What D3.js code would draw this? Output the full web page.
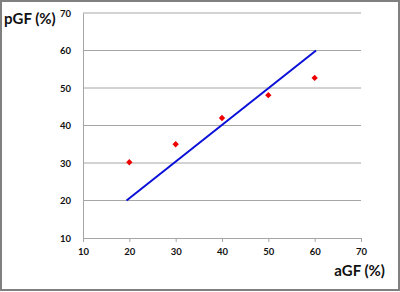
<!DOCTYPE html>
<html>
<head>
<meta charset="utf-8">
<script src="https://cdn.jsdelivr.net/npm/d3@7"></script>
<style>
  body { margin: 0; background: #fff; }
  text { font-family: Lato, "Open Sans", sans-serif; font-weight: bold; fill: #111; }
</style>
</head>
<body>
<div id="chart"></div>
<script>
'use strict';

// data
var aGF = [20, 30, 40, 50, 60];
var pGF = [30.2, 35, 42, 48.1, 52.7];
var lineX = [19.4, 60.3];
var lineY = [20, 60];
var xTicks = [10, 20, 30, 40, 50, 60, 70];
var yTicks = [10, 20, 30, 40, 50, 60, 70];

var W = 400, H = 292;
var margin = {top: 13, right: 39, bottom: 54, left: 83},
  width = W - margin.left - margin.right,
  height = H - margin.top - margin.bottom;

var x = d3.scaleLinear().domain([10, 70]).range([0, width]);
var y = d3.scaleLinear().domain([10, 70]).range([height, 0]);

var svg = d3.select("#chart").append("svg")
  .attr("width", W)
  .attr("height", H);

// outer frame
svg.append("rect")
  .attr("x", 1).attr("y", 1)
  .attr("width", W - 2).attr("height", H - 3)
  .attr("fill", "none")
  .attr("stroke", "#808080")
  .attr("stroke-width", 2);

var g = svg.append("g")
  .attr("transform", "translate(" + margin.left + "," + margin.top + ")");

// gridlines
g.selectAll(".grid")
  .data(yTicks.slice(1))
  .enter().append("line")
    .attr("x1", 0).attr("x2", width)
    .attr("y1", function(d) { return y(d); })
    .attr("y2", function(d) { return y(d); })
    .attr("stroke", "#a6a6a6")
    .attr("stroke-width", 1);

// x axis
var xAxis = g.append("g")
  .attr("transform", "translate(0," + height + ")")
  .call(d3.axisBottom(x).tickValues(xTicks).tickSize(4).tickPadding(6));
xAxis.select(".domain").attr("stroke", "#a6a6a6");
xAxis.selectAll(".tick line").attr("stroke", "#a6a6a6");
xAxis.selectAll("text").style("font-size", "9.5px").attr("fill", "#111");

// y axis
var yAxis = g.append("g")
  .call(d3.axisLeft(y).tickValues(yTicks).tickSize(0).tickPadding(12));
yAxis.select(".domain").attr("stroke", "#a6a6a6");
yAxis.selectAll("text").style("font-size", "9.5px").attr("fill", "#111");

// fitted line
g.append("path")
  .datum(d3.zip(lineX, lineY))
  .attr("fill", "none")
  .attr("stroke", "#0a10d8")
  .attr("stroke-width", 2)
  .attr("d", d3.line()
    .x(function(d) { return x(d[0]); })
    .y(function(d) { return y(d[1]); }));

// points (square turned 45 degrees)
g.selectAll(".pt")
  .data(d3.zip(aGF, pGF))
  .enter().append("path")
    .attr("transform", function(d) { return "translate(" + x(d[0]) + "," + y(d[1]) + ") rotate(45)"; })
    .attr("d", d3.symbol().type(d3.symbolSquare).size(20))
    .attr("fill", "#ee0000");

// axis titles
svg.append("text")
  .attr("x", 4).attr("y", 24)
  .style("font-size", "15px")
  .text("pGF (%)");

svg.append("text")
  .attr("x", 385).attr("y", 276)
  .attr("text-anchor", "end")
  .style("font-size", "15px")
  .text("aGF (%)");
</script>
</body>
</html>
